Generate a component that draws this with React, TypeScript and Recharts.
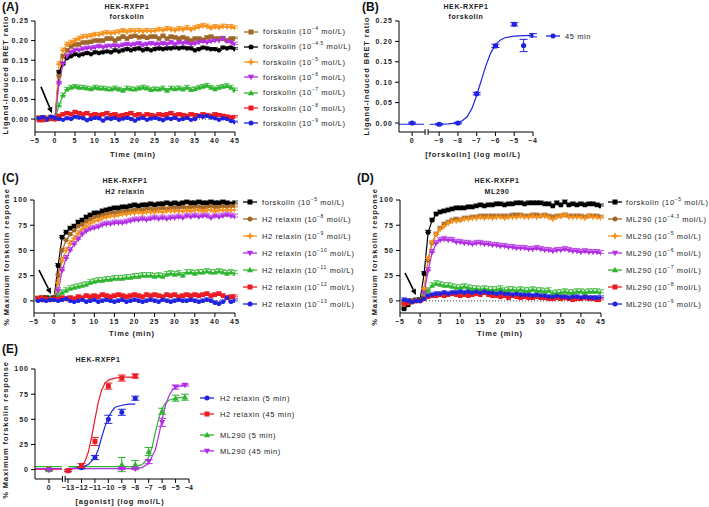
import React from "react";
import {
  LineChart,
  ComposedChart,
  Line,
  Scatter,
  XAxis,
  YAxis,
  ErrorBar,
  ReferenceLine,
} from "recharts";

const FONT = "'Liberation Sans', Arial, Helvetica, sans-serif";

const BROWN = "#A0672B";
const BLACK = "#000000";
const ORANGE = "#F7921E";
const PURPLE = "#B22EE5";
const GREEN = "#2FB52F";
const RED = "#EC1C24";
const BLUE = "#1F23E0";

// time points (min)
const TIME = [
  -4, -3, -2, -1, 0, 1, 2, 3, 4, 5, 6, 7, 8, 9, 10, 11, 12, 13, 14, 15, 16, 17, 18, 19, 20, 21, 22, 23, 24, 25,
  26, 27, 28, 29, 30, 31, 32, 33, 34, 35, 36, 37, 38, 39, 40, 41, 42, 43, 44, 45,
];
const TIME_TICKS = [-5, 0, 5, 10, 15, 20, 25, 30, 35, 40, 45];

// (A) forskolin, BRET ratio
const A_F4 = [0, -0.003, 0.001, 0, 0,
  0.11, 0.16, 0.175, 0.185, 0.19, 0.19, 0.195, 0.195, 0.197, 0.2, 0.2, 0.2, 0.205, 0.205, 0.2, 0.205, 0.21, 0.205, 0.21, 0.212,
  0.208, 0.21, 0.207, 0.21, 0.21, 0.205, 0.212, 0.205, 0.21, 0.208, 0.205, 0.208, 0.205, 0.2, 0.205, 0.205, 0.202, 0.208, 0.21, 0.205,
  0.205, 0.205, 0.2, 0.205, 0.205];
const A_F45 = [0.002, 0, -0.002, 0.001, 0,
  0.12, 0.14, 0.155, 0.16, 0.165, 0.162, 0.165, 0.168, 0.165, 0.17, 0.168, 0.17, 0.172, 0.17, 0.175, 0.172, 0.175, 0.178, 0.175, 0.178,
  0.18, 0.175, 0.178, 0.175, 0.178, 0.18, 0.178, 0.18, 0.18, 0.182, 0.18, 0.182, 0.18, 0.18, 0.175, 0.178, 0.182, 0.18, 0.178, 0.178,
  0.175, 0.182, 0.18, 0.182, 0.178];
const A_F5 = [0.003, 0, 0.002, 0.004, 0,
  0.14, 0.175, 0.19, 0.195, 0.2, 0.205, 0.21, 0.21, 0.212, 0.215, 0.215, 0.218, 0.22, 0.218, 0.22, 0.222, 0.225, 0.222, 0.225, 0.224,
  0.225, 0.223, 0.225, 0.224, 0.225, 0.228, 0.226, 0.23, 0.228, 0.226, 0.23, 0.228, 0.232, 0.228, 0.232, 0.235, 0.238, 0.236, 0.232, 0.235,
  0.233, 0.236, 0.235, 0.235, 0.232];
const A_F6 = [0.001, 0.002, 0, 0.001, 0,
  0.09, 0.14, 0.16, 0.17, 0.175, 0.175, 0.178, 0.18, 0.18, 0.182, 0.185, 0.182, 0.185, 0.185, 0.186, 0.185, 0.188, 0.19, 0.188, 0.19,
  0.192, 0.188, 0.19, 0.192, 0.19, 0.19, 0.192, 0.19, 0.195, 0.19, 0.195, 0.192, 0.195, 0.19, 0.192, 0.195, 0.198, 0.195, 0.198, 0.2,
  0.2, 0.205, 0.198, 0.195, 0.19];
const A_F7 = [0, 0.001, 0, 0.002, 0,
  0.035, 0.06, 0.075, 0.08, 0.082, 0.08, 0.08, 0.078, 0.076, 0.08, 0.078, 0.078, 0.076, 0.075, 0.078, 0.075, 0.072, 0.078, 0.076, 0.075,
  0.078, 0.08, 0.078, 0.074, 0.076, 0.075, 0.078, 0.072, 0.078, 0.076, 0.078, 0.075, 0.08, 0.074, 0.076, 0.08, 0.082, 0.085, 0.08, 0.076,
  0.08, 0.082, 0.084, 0.08, 0.073];
const A_F8 = [-0.003, -0.002, 0, 0.002, 0,
  0.008, 0.012, 0.015, 0.012, 0.018, 0.015, 0.012, 0.015, 0.01, 0.012, 0.01, 0.012, 0.015, 0.01, 0.012, 0.008, 0.01, 0.012, 0.015, 0.01,
  0.012, 0.008, 0.012, 0.01, 0.008, 0.012, 0.01, 0.012, 0.015, 0.01, 0.012, 0.01, 0.008, 0.012, 0.01, 0.008, 0.012, 0.01, 0.008, 0.012,
  0.01, 0.008, 0.006, 0.004, 0.005];
const A_F9 = [0.002, 0.005, 0, 0.006, 0.003,
  0, -0.002, 0.002, 0, 0.006, 0.004, 0.002, -0.003, 0, 0.003, 0.002, -0.004, 0.002, 0, 0.003, -0.002, 0.001, 0.003, 0, -0.004,
  0.001, 0.003, -0.002, 0.001, 0.003, 0, -0.003, 0.002, 0, 0.003, -0.002, 0, 0.003, -0.002, 0, 0.008, 0.006, 0.008, 0.004, 0.002,
  -0.002, 0.002, 0, -0.005, -0.008];
const A_SEM = [0.004, 0.004, 0.006, 0.006, 0.006, 0.004, 0.003];

// (C) H2 relaxin, % max forskolin
const C_FSK = [2, 1, 3, 2, 3,
  35, 63, 68, 72, 74, 78, 80, 83, 85, 87, 87, 89, 90, 91, 92, 92, 93, 93, 94, 95,
  94, 95, 95, 96, 95, 96, 96, 97, 96, 97, 96, 97, 98, 97, 97, 98, 97, 97, 98, 97, 97, 98, 97, 96, 97];
const C_H8 = [1, 2, 1, 2, 2,
  25, 50, 60, 66, 70, 74, 76, 79, 81, 83, 84, 85, 86, 87, 87, 88, 88, 89, 89, 90,
  90, 90, 91, 91, 90, 91, 92, 91, 92, 92, 92, 93, 92, 93, 93, 93, 92, 93, 94, 93, 93, 94, 93, 94, 94];
const C_H9 = [2, 1, 2, 1, 2,
  18, 40, 50, 57, 62, 67, 71, 74, 77, 79, 80, 82, 83, 84, 84, 85, 86, 86, 87, 87,
  88, 87, 88, 88, 88, 89, 88, 89, 89, 89, 89, 89, 90, 89, 90, 90, 89, 90, 90, 89, 90, 90, 90, 90, 90];
const C_H10 = [1, 2, 1, 1, 2,
  10, 30, 42, 50, 56, 61, 66, 69, 71, 72, 73, 75, 76, 76, 77, 77, 77, 78, 79, 80,
  80, 81, 80, 81, 82, 81, 82, 81, 82, 82, 83, 82, 84, 83, 84, 83, 84, 84, 82, 84, 83, 84, 85, 84, 83];
const C_H11 = [1, 2, 1, 2, 1,
  5, 8, 10, 12, 13, 14, 15, 16, 18, 19, 20, 20, 21, 21, 22, 22, 22, 23, 23, 24,
  24, 25, 25, 25, 24, 25, 24, 26, 27, 26, 27, 25, 28, 28, 27, 28, 28, 29, 28, 28, 29, 28, 27, 28, 27];
const C_H12 = [2, 3, 2, 1, 2,
  2, 3, 2, 3, 2, 4, 3, 5, 4, 5, 4, 6, 5, 4, 5, 6, 5, 4, 5, 6,
  5, 4, 6, 5, 6, 5, 4, 6, 5, 6, 4, 5, 6, 5, 6, 5, 6, 7, 5, 6, 7, 5, 3, 4, 4];
const C_H13 = [0, 1, 0, 1, 1,
  0, 1, 2, 0, -1, 0, 1, -1, 0, 1, -1, 0, 1, 0, -1, 0, 1, -1, 0, 1,
  0, -1, 0, 1, 0, -1, 1, 0, -1, 0, 1, 0, 0, 1, 0, -1, 0, 1, 0, -2, -3, -1, 3, -1, 0];
const C_SEM = [2, 2, 3, 3, 3, 2, 2];

// (D) ML290, % max forskolin
const D_FSK = [-8, -4, -1, 0, 1,
  27, 68, 80, 86, 88, 89, 90, 91, 92, 92, 92, 93, 93, 94, 95, 94, 95, 95, 96, 96,
  95, 96, 96, 97, 97, 96, 97, 97, 97, 97, 96, 96, 94, 97, 95, 98, 95, 96, 95, 96, 95, 96, 96, 95, 94];
const D_M43 = [-4, -2, -1, 0, 0,
  10, 40, 57, 66, 72, 76, 78, 80, 81, 80, 82, 82, 83, 83, 84, 84, 84, 84, 84, 84,
  84, 84, 85, 85, 85, 84, 84, 85, 85, 84, 85, 84, 83, 84, 84, 85, 84, 84, 84, 84, 83, 84, 84, 84, 83];
const D_M5 = [-3, -2, -1, 0, 0,
  12, 42, 58, 66, 71, 74, 77, 79, 79, 80, 81, 81, 82, 82, 83, 82, 83, 82, 83, 83,
  82, 83, 83, 83, 84, 83, 83, 84, 83, 84, 84, 83, 81, 83, 84, 85, 83, 83, 83, 83, 82, 84, 83, 83, 82];
const D_M6 = [-2, -1, -1, 0, 0,
  8, 30, 48, 57, 60, 61, 60, 60, 58, 58, 57, 57, 56, 57, 57, 56, 56, 55, 55, 54,
  54, 53, 53, 52, 52, 52, 51, 51, 52, 51, 50, 50, 49, 50, 50, 51, 50, 49, 49, 48, 49, 48, 48, 48, 47];
const D_M7 = [-2, -1, -1, 0, 0,
  3, 10, 15, 17, 16, 15, 15, 14, 13, 13, 14, 13, 12, 12, 11, 12, 11, 11, 11, 12,
  10, 11, 11, 10, 11, 10, 10, 11, 10, 10, 9, 10, 7, 8, 8, 9, 8, 8, 9, 9, 8, 9, 9, 9, 8];
const D_M8 = [-3, -2, -1, 0, 0,
  2, 4, 5, 5, 6, 5, 6, 7, 6, 5, 6, 5, 6, 7, 6, 8, 6, 5, 5, 4,
  5, 3, 5, 4, 3, 4, 3, 3, 4, 3, 3, 2, 2, 3, 2, 3, 2, 1, 2, 2, 3, 2, 2, 1, 1];
const D_M9 = [1, 0, -1, 0, 0,
  2, 5, 6, 7, 7, 8, 7, 8, 8, 9, 8, 9, 8, 9, 8, 9, 8, 8, 7, 8,
  7, 7, 6, 7, 6, 6, 6, 5, 6, 5, 5, 4, 4, 5, 4, 4, 3, 4, 4, 3, 4, 3, 3, 3, 3];
const D_SEM = [2, 2, 2, 3, 3, 2, 2];

// (B) forskolin concentration-response at 45 min (null = vehicle)
const B_LOGC = [null, -9, -8, -7, -6, -5, -4.5, -4];
const B_RESP = [0, -0.003, 0, 0.072, 0.189, 0.242, 0.19, 0.215];
const B_ERR = [0.002, 0.002, 0.002, 0.003, 0.004, 0.004, 0.015, 0.004];
const B_FIT_X = [-9.5, -9, -8.5, -8, -7.75, -7.5, -7.25, -7, -6.75, -6.5, -6.25, -6, -5.75, -5.5, -5, -4.5, -4];
const B_FIT_Y = [-0.003, -0.003, -0.002, 0.001, 0.006, 0.016, 0.036, 0.068, 0.105, 0.142, 0.172, 0.192, 0.203, 0.209, 0.213, 0.214, 0.215];

// (E) concentration-response (null = vehicle)
const E_H5_LOGC = [null, -13, -12, -11, -10, -9, -8];
const E_H5_RESP = [0, -1, 2, 12, 50, 57, 71];
const E_H5_ERR = [1, 1, 1, 2, 4, 3, 2];
const E_H45_LOGC = [null, -13, -12, -11, -10, -9, -8];
const E_H45_RESP = [0, -1, 4, 28, 83, 91, 93];
const E_H45_ERR = [1, 1, 2, 4, 3, 3, 2];
const E_M5_LOGC = [null, -9, -8, -7, -6, -5, -4.3];
const E_M5_RESP = [0, 5, 5, 18, 58, 71, 72];
const E_M5_ERR = [1, 7, 4, 4, 3, 3, 3];
const E_M45_LOGC = [null, -9, -8, -7, -6, -5, -4.3];
const E_M45_RESP = [0, 1, 1, 8, 47, 82, 84];
const E_M45_ERR = [1, 1, 1, 2, 4, 2, 1];

const E_H5_FIT_X = [-13, -12, -11.5, -11, -10.75, -10.5, -10.25, -10, -9.75, -9.5, -9, -8.5, -8];
const E_H5_FIT_Y = [1, 2, 5, 12, 20, 32, 43, 52, 58, 62, 64, 65, 65];
const E_H45_FIT_X = [-13, -12.5, -12, -11.75, -11.5, -11.25, -11, -10.75, -10.5, -10.25, -10, -9.5, -9, -8];
const E_H45_FIT_Y = [0.5, 1, 3, 8, 17, 32, 50, 67, 79, 86, 89, 91, 92, 92];
const E_M5_FIT_X = [-13, -8, -7.5, -7, -6.75, -6.5, -6.25, -6, -5.75, -5.5, -5, -4.3];
const E_M5_FIT_Y = [3, 3, 5, 12, 22, 37, 51, 61, 66, 69, 71, 72];
const E_M45_FIT_X = [-13, -8, -7.5, -7, -6.5, -6.25, -6, -5.75, -5.5, -5.25, -5, -4.3];
const E_M45_FIT_Y = [1, 1, 2, 6, 20, 34, 50, 64, 73, 79, 82, 84];

// broken-axis layout (axis units)
const B_ZERO = -10.44;
const B_AXIS = [-11.14, -9.75, -9.59, -4];
const E_ZERO = -14.42;
const E_AXIS = [-15.46, -13.42, -13.22, -4];

type Shape = "square" | "circle" | "star" | "tri" | "tridown";

const TICK = { fontSize: 7, fontWeight: 700, fill: "#222", fontFamily: FONT, letterSpacing: 1 };

const minus = (v: number) => (v < 0 ? `\u2212${Math.abs(v)}` : `${v}`);

function Mark({ cx, cy, shape, color, s = 2.5 }: { cx?: number; cy?: number; shape: Shape; color: string; s?: number }) {
  if (cx == null || cy == null || Number.isNaN(cx) || Number.isNaN(cy)) return null;
  if (shape === "square") return <rect x={cx - s} y={cy - s} width={2 * s} height={2 * s} fill={color} />;
  if (shape === "circle") return <circle cx={cx} cy={cy} r={s} fill={color} />;
  if (shape === "star") {
    const a = s * 1.5, b = s * 0.5;
    return (
      <polygon
        points={`${cx},${cy - a} ${cx + b},${cy - b} ${cx + a},${cy} ${cx + b},${cy + b} ${cx},${cy + a} ${cx - b},${cy + b} ${cx - a},${cy} ${cx - b},${cy - b}`}
        fill={color}
      />
    );
  }
  if (shape === "tri")
    return <polygon points={`${cx},${cy - s * 1.3} ${cx + s * 1.25},${cy + s * 0.9} ${cx - s * 1.25},${cy + s * 0.9}`} fill={color} />;
  return <polygon points={`${cx},${cy + s * 1.3} ${cx + s * 1.25},${cy - s * 0.9} ${cx - s * 1.25},${cy - s * 0.9}`} fill={color} />;
}

function ArrowShape(p: any) {
  const { x1, y1, x2, y2 } = p;
  const ang = Math.atan2(y2 - y1, x2 - x1);
  const L = 6, W = 2.8;
  const bx = x2 - L * Math.cos(ang), by = y2 - L * Math.sin(ang);
  const px = -Math.sin(ang) * W, py = Math.cos(ang) * W;
  return (
    <g>
      <line x1={x1} y1={y1} x2={bx} y2={by} stroke="#000" strokeWidth={1.6} />
      <polygon points={`${x2},${y2} ${bx + px},${by + py} ${bx - px},${by - py}`} fill="#000" />
    </g>
  );
}

type Series = { key: string; values: number[]; color: string; shape: Shape; name: string; exp: string };

const A_SERIES: Series[] = [
  { key: "a4", values: A_F4, color: BROWN, shape: "square", name: "forskolin", exp: "\u22124" },
  { key: "a45", values: A_F45, color: BLACK, shape: "circle", name: "forskolin", exp: "\u22124.5" },
  { key: "a5", values: A_F5, color: ORANGE, shape: "star", name: "forskolin", exp: "\u22125" },
  { key: "a6", values: A_F6, color: PURPLE, shape: "tridown", name: "forskolin", exp: "\u22126" },
  { key: "a7", values: A_F7, color: GREEN, shape: "tri", name: "forskolin", exp: "\u22127" },
  { key: "a8", values: A_F8, color: RED, shape: "square", name: "forskolin", exp: "\u22128" },
  { key: "a9", values: A_F9, color: BLUE, shape: "circle", name: "forskolin", exp: "\u22129" },
];
const C_SERIES: Series[] = [
  { key: "c0", values: C_FSK, color: BLACK, shape: "square", name: "forskolin", exp: "\u22125" },
  { key: "c8", values: C_H8, color: BROWN, shape: "circle", name: "H2 relaxin", exp: "\u22128" },
  { key: "c9", values: C_H9, color: ORANGE, shape: "star", name: "H2 relaxin", exp: "\u22129" },
  { key: "c10", values: C_H10, color: PURPLE, shape: "tridown", name: "H2 relaxin", exp: "\u221210" },
  { key: "c11", values: C_H11, color: GREEN, shape: "tri", name: "H2 relaxin", exp: "\u221211" },
  { key: "c12", values: C_H12, color: RED, shape: "square", name: "H2 relaxin", exp: "\u221212" },
  { key: "c13", values: C_H13, color: BLUE, shape: "circle", name: "H2 relaxin", exp: "\u221213" },
];
const D_SERIES: Series[] = [
  { key: "d0", values: D_FSK, color: BLACK, shape: "square", name: "forskolin", exp: "\u22125" },
  { key: "d43", values: D_M43, color: BROWN, shape: "circle", name: "ML290", exp: "\u22124.3" },
  { key: "d5", values: D_M5, color: ORANGE, shape: "star", name: "ML290", exp: "\u22125" },
  { key: "d6", values: D_M6, color: PURPLE, shape: "tridown", name: "ML290", exp: "\u22126" },
  { key: "d7", values: D_M7, color: GREEN, shape: "tri", name: "ML290", exp: "\u22127" },
  { key: "d8", values: D_M8, color: RED, shape: "square", name: "ML290", exp: "\u22128" },
  { key: "d9", values: D_M9, color: BLUE, shape: "circle", name: "ML290", exp: "\u22129" },
];

const abs = (left: number, top: number): React.CSSProperties => ({ position: "absolute", left, top });

function Txt({ x, y, children, size = 7, bold = true, ls = 0.6, rotate = false }: any) {
  return (
    <div
      style={{
        position: "absolute",
        left: x,
        top: y,
        transform: `translate(-50%, -50%)${rotate ? " rotate(-90deg)" : ""}`,
        whiteSpace: "nowrap",
        fontFamily: FONT,
        fontSize: size,
        fontWeight: bold ? 700 : 400,
        letterSpacing: ls,
        color: "#222",
        lineHeight: 1,
      }}
    >
      {children}
    </div>
  );
}

function PanelTag({ x, y, children }: any) {
  return (
    <div style={{ ...abs(x, y), fontFamily: FONT, fontSize: 12, fontWeight: 700, color: "#111", lineHeight: 1 }}>{children}</div>
  );
}

function LegendItem({ x, y, color, shape, children, gap = 4 }: any) {
  return (
    <div style={{ ...abs(x - 8, y - 6), height: 12, display: "flex", alignItems: "center", whiteSpace: "nowrap" }}>
      <svg width={16} height={12} style={{ display: "block" }}>
        <line x1={1} y1={6} x2={15} y2={6} stroke={color} strokeWidth={1.3} />
        <Mark cx={8} cy={6} shape={shape} color={color} />
      </svg>
      <span style={{ marginLeft: gap, fontFamily: FONT, fontSize: 7.5, letterSpacing: 0.6, color: "#222" }}>{children}</span>
    </div>
  );
}

function SeriesLegend({ series, x, y0, step, gap }: { series: Series[]; x: number; y0: number; step: number; gap: number }) {
  return (
    <>
      {series.map((s, i) => (
        <LegendItem key={s.key} x={x} y={y0 + i * step} color={s.color} shape={s.shape} gap={gap}>
          {s.name} (10<sup style={{ fontSize: 5, verticalAlign: "4px", lineHeight: 0 }}>{s.exp}</sup> mol/L)
        </LegendItem>
      ))}
    </>
  );
}

function TimeChart(props: {
  left: number;
  top: number;
  width: number;
  height: number;
  marginTop: number;
  xHeight: number;
  yWidth: number;
  series: Series[];
  sem: number[];
  yDomain: [number, number];
  yTicks: number[];
  yFmt: (v: number) => string;
  arrow: { x: number; y: number }[];
}) {
  const rows = TIME.map((t, i) => {
    const r: Record<string, number> = { t };
    props.series.forEach((s) => (r[s.key] = s.values[i]));
    return r;
  });
  return (
    <div style={abs(props.left, props.top)}>
      <LineChart
        width={props.width}
        height={props.height}
        data={rows}
        margin={{ top: props.marginTop, right: 5, bottom: 0, left: 0 }}
      >
        <XAxis
          dataKey="t"
          type="number"
          domain={[-5, 45]}
          ticks={TIME_TICKS}
          interval={0}
          tickFormatter={minus}
          tick={TICK}
          tickSize={4}
          height={props.xHeight}
          stroke="#000"
          allowDataOverflow
        />
        <YAxis
          type="number"
          domain={props.yDomain}
          ticks={props.yTicks}
          interval={0}
          tickFormatter={props.yFmt}
          tick={TICK}
          tickSize={4}
          width={props.yWidth}
          stroke="#000"
          allowDataOverflow
        />
        <ReferenceLine segment={[{ x: 0, y: 0 }, { x: 45, y: 0 }]} stroke="#333" strokeDasharray="1 2" />
        {props.series.map((s, si) => (
          <Line
            key={s.key}
            dataKey={s.key}
            stroke={s.color}
            strokeWidth={1.2}
            isAnimationActive={false}
            activeDot={false}
            dot={(p: any) => (
              <g key={`${s.key}-${p.index}`}>
                <Mark cx={p.cx} cy={p.cy} shape={s.shape} color={s.color} s={2.2} />
              </g>
            )}
          >
            <ErrorBar
              dataKey={() => [0, props.sem[si]]}
              direction="y"
              width={3}
              stroke={s.color}
              strokeWidth={0.8}
              isAnimationActive={false}
            />
          </Line>
        ))}
        <ReferenceLine segment={props.arrow} shape={ArrowShape} ifOverflow="visible" />
      </LineChart>
    </div>
  );
}

function withGap(xs: number[], ys: number[], axis: number[]) {
  return [
    { x: axis[0], y: ys[0] },
    { x: axis[1] - 0.05, y: ys[0] },
    { x: (axis[1] + axis[2]) / 2, y: null },
    ...xs.map((x, i) => ({ x, y: ys[i] })),
  ];
}

function pointsOf(logc: (number | null)[], resp: number[], err: number[], zero: number) {
  return logc.map((c, i) => ({ x: c == null ? zero : c, y: resp[i], e: err[i] }));
}

function BrokenAxis({ axis, yLine, mark }: { axis: number[]; yLine: number; mark: number }) {
  return (
    <>
      <ReferenceLine segment={[{ x: axis[0], y: yLine }, { x: axis[1], y: yLine }]} stroke="#000" strokeWidth={1} ifOverflow="visible" />
      <ReferenceLine segment={[{ x: axis[2], y: yLine }, { x: axis[3], y: yLine }]} stroke="#000" strokeWidth={1} ifOverflow="visible" />
      <ReferenceLine segment={[{ x: axis[1], y: yLine - mark }, { x: axis[1], y: yLine + mark }]} stroke="#000" strokeWidth={1} ifOverflow="visible" />
      <ReferenceLine segment={[{ x: axis[2], y: yLine - mark }, { x: axis[2], y: yLine + mark }]} stroke="#000" strokeWidth={1} ifOverflow="visible" />
    </>
  );
}

function DoseB() {
  const pts = pointsOf(B_LOGC, B_RESP, B_ERR, B_ZERO);
  const fit = withGap(B_FIT_X, B_FIT_Y, B_AXIS);
  const yMin = -0.022;
  return (
    <div style={abs(364, 0)}>
      <ComposedChart width={175} height={165} margin={{ top: 21, right: 6, bottom: 0, left: 0 }}>
        <XAxis
          dataKey="x"
          type="number"
          domain={[B_AXIS[0], B_AXIS[3]]}
          ticks={[B_ZERO, -9, -8, -7, -6, -5, -4]}
          interval={0}
          tickFormatter={(v: number) => (v < -10 ? "0" : minus(v))}
          tick={TICK}
          tickSize={4}
          height={33}
          axisLine={false}
          stroke="#000"
          allowDataOverflow
        />
        <YAxis
          type="number"
          domain={[yMin, 0.25]}
          ticks={[0, 0.05, 0.1, 0.15, 0.2, 0.25]}
          interval={0}
          tickFormatter={(v: number) => v.toFixed(2)}
          tick={TICK}
          tickSize={4}
          width={35}
          stroke="#000"
          allowDataOverflow
        />
        {BrokenAxis({ axis: B_AXIS, yLine: yMin, mark: 0.007 })}
        <Line data={fit} dataKey="y" stroke={BLUE} strokeWidth={1.2} dot={false} activeDot={false} isAnimationActive={false} />
        <Scatter
          data={pts}
          dataKey="y"
          isAnimationActive={false}
          shape={(p: any) => <Mark cx={p.cx} cy={p.cy} shape="circle" color={BLUE} s={2.6} />}
        >
          <ErrorBar dataKey="e" direction="y" width={4} stroke={BLUE} strokeWidth={1} isAnimationActive={false} />
        </Scatter>
      </ComposedChart>
    </div>
  );
}

const E_SETS = [
  { key: "h5", logc: E_H5_LOGC, resp: E_H5_RESP, err: E_H5_ERR, fx: E_H5_FIT_X, fy: E_H5_FIT_Y, color: BLUE, shape: "circle" as Shape, label: "H2 relaxin (5 min)" },
  { key: "h45", logc: E_H45_LOGC, resp: E_H45_RESP, err: E_H45_ERR, fx: E_H45_FIT_X, fy: E_H45_FIT_Y, color: RED, shape: "square" as Shape, label: "H2 relaxin (45 min)" },
  { key: "m5", logc: E_M5_LOGC, resp: E_M5_RESP, err: E_M5_ERR, fx: E_M5_FIT_X, fy: E_M5_FIT_Y, color: GREEN, shape: "tri" as Shape, label: "ML290 (5 min)" },
  { key: "m45", logc: E_M45_LOGC, resp: E_M45_RESP, err: E_M45_ERR, fx: E_M45_FIT_X, fy: E_M45_FIT_Y, color: PURPLE, shape: "tridown" as Shape, label: "ML290 (45 min)" },
];

function DoseE() {
  const yMin = -9.3;
  return (
    <div style={abs(0, 349)}>
      <ComposedChart width={194} height={150} margin={{ top: 20, right: 5, bottom: 0, left: 0 }}>
        <XAxis
          dataKey="x"
          type="number"
          domain={[E_AXIS[0], E_AXIS[3]]}
          ticks={[E_ZERO, -13, -12, -11, -10, -9, -8, -7, -6, -5, -4]}
          interval={0}
          tickFormatter={(v: number) => (v < -14 ? "0" : minus(v))}
          tick={{ ...TICK, letterSpacing: 0.3 }}
          tickSize={4}
          height={20}
          axisLine={false}
          stroke="#000"
          allowDataOverflow
        />
        <YAxis
          type="number"
          domain={[yMin, 100]}
          ticks={[0, 25, 50, 75, 100]}
          interval={0}
          tick={TICK}
          tickSize={4}
          width={35}
          stroke="#000"
          allowDataOverflow
        />
        {BrokenAxis({ axis: E_AXIS, yLine: yMin, mark: 3 })}
        {E_SETS.map((s) => (
          <Line
            key={`f-${s.key}`}
            data={withGap(s.fx, s.fy, E_AXIS)}
            dataKey="y"
            stroke={s.color}
            strokeWidth={1.2}
            dot={false}
            activeDot={false}
            isAnimationActive={false}
          />
        ))}
        {E_SETS.map((s) => (
          <Scatter
            key={`p-${s.key}`}
            data={pointsOf(s.logc, s.resp, s.err, E_ZERO)}
            dataKey="y"
            isAnimationActive={false}
            shape={(p: any) => <Mark cx={p.cx} cy={p.cy} shape={s.shape} color={s.color} s={2.5} />}
          >
            <ErrorBar dataKey="e" direction="y" width={4} stroke={s.color} strokeWidth={1} isAnimationActive={false} />
          </Scatter>
        ))}
      </ComposedChart>
    </div>
  );
}

const AX = 7.5; // axis label font size

export default function App() {
  return (
    <div style={{ position: "absolute", left: 0, top: 0, width: 709, height: 507, background: "#fff", overflow: "hidden" }}>
      {/* (A) */}
      <TimeChart
        left={0}
        top={0}
        width={240}
        height={165}
        marginTop={21}
        xHeight={33}
        yWidth={35}
        series={A_SERIES}
        sem={A_SEM}
        yDomain={[-0.033, 0.25]}
        yTicks={[0, 0.05, 0.1, 0.15, 0.2, 0.25]}
        yFmt={(v) => v.toFixed(2)}
        arrow={[{ x: -3.5, y: 0.082 }, { x: -0.75, y: 0.015 }]}
      />
      <PanelTag x={2} y={1}>(A)</PanelTag>
      <Txt x={127} y={5.5}>HEK-RXFP1</Txt>
      <Txt x={127} y={15.5}>forskolin</Txt>
      <Txt x={133} y={155} size={AX} ls={0.8}>Time (min)</Txt>
      <Txt x={6} y={75} size={AX} ls={0.9} rotate>Ligand-induced BRET ratio</Txt>
      <SeriesLegend series={A_SERIES} x={251} y0={31.5} step={15.3} gap={4} />

      {/* (B) */}
      <DoseB />
      <PanelTag x={362} y={1}>(B)</PanelTag>
      <Txt x={466} y={5.5}>HEK-RXFP1</Txt>
      <Txt x={466} y={15.5}>forskolin</Txt>
      <Txt x={473} y={155} size={AX} ls={0.8}>[forskolin] (log mol/L)</Txt>
      <Txt x={367} y={76} size={AX} ls={0.9} rotate>Ligand-induced BRET ratio</Txt>
      <LegendItem x={553} y={36} color={BLUE} shape="circle" gap={4}>45 min</LegendItem>

      {/* (C) */}
      <TimeChart
        left={0}
        top={180}
        width={240}
        height={165}
        marginTop={20}
        xHeight={32}
        yWidth={34}
        series={C_SERIES}
        sem={C_SEM}
        yDomain={[-12, 100]}
        yTicks={[0, 25, 50, 75, 100]}
        yFmt={(v) => `${v}`}
        arrow={[{ x: -3.75, y: 30.6 }, { x: -0.77, y: 6.8 }]}
      />
      <PanelTag x={2} y={172}>(C)</PanelTag>
      <Txt x={125} y={180}>HEK-RXFP1</Txt>
      <Txt x={125} y={190.5}>H2 relaxin</Txt>
      <Txt x={132} y={334} size={AX} ls={0.8}>Time (min)</Txt>
      <Txt x={6.5} y={257} size={AX} ls={0.9} rotate>% Maximum forskolin response</Txt>
      <SeriesLegend series={C_SERIES} x={250} y0={202} step={17} gap={4} />

      {/* (D) */}
      <TimeChart
        left={365}
        top={180}
        width={241}
        height={165}
        marginTop={20}
        xHeight={32}
        yWidth={35}
        series={D_SERIES}
        sem={D_SEM}
        yDomain={[-12, 100]}
        yTicks={[0, 25, 50, 75, 100]}
        yFmt={(v) => `${v}`}
        arrow={[{ x: -3.76, y: 27.7 }, { x: -1.03, y: 5.8 }]}
      />
      <PanelTag x={357} y={172}>(D)</PanelTag>
      <Txt x={497} y={180}>HEK-RXFP1</Txt>
      <Txt x={497} y={190.5}>ML290</Txt>
      <Txt x={500} y={334} size={AX} ls={0.8}>Time (min)</Txt>
      <Txt x={375} y={257} size={AX} ls={0.9} rotate>% Maximum forskolin response</Txt>
      <SeriesLegend series={D_SERIES} x={615} y0={202} step={17} gap={3} />

      {/* (E) */}
      <DoseE />
      <PanelTag x={2} y={343}>(E)</PanelTag>
      <Txt x={98} y={359}>HEK-RXFP1</Txt>
      <Txt x={120} y={502} size={AX} ls={0.8}>[agonist] (log mol/L)</Txt>
      <Txt x={6} y={430} size={AX} ls={0.9} rotate>% Maximum forskolin response</Txt>
      {E_SETS.map((s, i) => (
        <LegendItem key={s.key} x={207} y={[398, 414, 435, 451][i]} color={s.color} shape={s.shape} gap={5}>
          {s.label}
        </LegendItem>
      ))}
    </div>
  );
}
